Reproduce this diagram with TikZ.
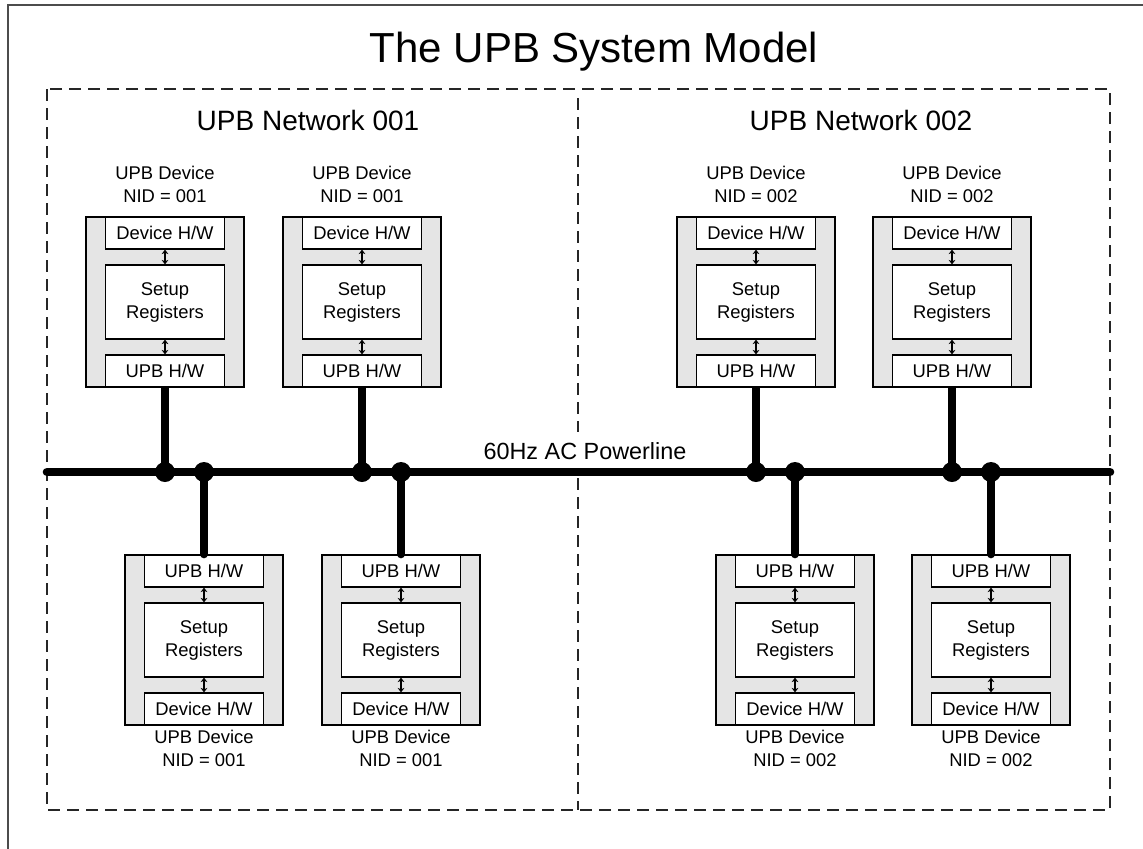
\documentclass[tikz,border=0pt]{standalone}
\usepackage{fontspec}
\setmainfont{Liberation Sans}
\usetikzlibrary{arrows.meta}
\newcommand{\devfont}{\fontsize{9.2}{11.5}\selectfont}

\begin{document}
\begin{tikzpicture}[x=0.5pt,y=-0.5pt,>={Stealth[length=2.2pt,width=3.4pt]},
    devbox/.style={draw,fill=black!10,line width=0.7pt,minimum width=79pt,minimum height=85pt,inner sep=0pt},
    hwbox/.style={draw,fill=white,line width=0.7pt,minimum width=59.5pt,minimum height=16pt,inner sep=0pt,font=\devfont},
    regbox/.style={hwbox,minimum height=37pt,align=center},
    link/.style={<->,line width=0.6pt},
    bus/.style={line width=4pt},
    tag/.style={font=\devfont,align=center,inner sep=0pt},
    netbox/.style={black!85,dash pattern=on 6pt off 3.5pt,line width=0.7pt}]
            \useasboundingbox (0,0) rectangle (1143,848);
            \draw[black!70,line width=1pt] (8,5) rectangle (1160,870);
            \node[font=\fontsize{21}{25}\selectfont,anchor=base] (title) at (594,62) {The UPB System Model};
            % the two networks
            \draw[netbox] (47,89) rectangle (1110,810);
            \draw[netbox] (578,98) -- (578,810);
            \node[font=\fontsize{14}{17}\selectfont,anchor=base] (net1) at (308,130) {UPB Network 001};
            \node[font=\fontsize{14}{17}\selectfont,anchor=base] (net2) at (861,130) {UPB Network 002};
            % powerline
            \coordinate (pl-w) at (47,472);
            \coordinate (pl-e) at (1110,472);
            \node[font=\fontsize{11.7}{14}\selectfont,anchor=base,fill=white,inner xsep=2pt,inner ysep=5pt] (pl-lbl) at (585,459) {60Hz AC Powerline};
            \draw[bus,line width=4.3pt,line cap=round] (pl-w) -- (pl-e);
            % devices above the line
            \foreach \i/\cx/\nid in {1/165/001,2/362/001,3/756/002,4/952/002} {
                \node[devbox] (top\i) at (\cx,302) {};
                \node[hwbox,anchor=north] (top\i-dev) at (top\i.north) {Device H/W};
                \node[regbox] (top\i-reg) at (top\i.center) {Setup\\Registers};
                \node[hwbox,anchor=south] (top\i-upb) at (top\i.south) {UPB H/W};
                \draw[link] (top\i-dev) -- (top\i-reg);
                \draw[link] (top\i-reg) -- (top\i-upb);
                \node[tag,anchor=south] (top\i-lbl) at ([yshift=6.5pt]top\i.north) {UPB Device\\NID = \nid};
                \coordinate (top\i-tap) at (top\i-upb |- pl-w);
                \draw[bus] (top\i-upb) -- (top\i-tap);
                \fill (top\i-tap) circle (5pt);
            }
            % devices below the line
            \foreach \i/\cx/\nid in {1/204/001,2/401/001,3/795/002,4/991/002} {
                \node[devbox] (bot\i) at (\cx,640) {};
                \node[hwbox,anchor=north] (bot\i-upb) at (bot\i.north) {UPB H/W};
                \node[regbox] (bot\i-reg) at (bot\i.center) {Setup\\Registers};
                \node[hwbox,anchor=south] (bot\i-dev) at (bot\i.south) {Device H/W};
                \draw[link] (bot\i-upb) -- (bot\i-reg);
                \draw[link] (bot\i-reg) -- (bot\i-dev);
                \node[tag,anchor=north] (bot\i-lbl) at ([yshift=-2pt]bot\i.south) {UPB Device\\NID = \nid};
                \coordinate (bot\i-tap) at (bot\i-upb |- pl-w);
                \draw[bus,line cap=round] (bot\i-tap) -- (bot\i-upb);
                \fill (bot\i-tap) circle (5pt);
            }
        \end{tikzpicture}
\end{document}
